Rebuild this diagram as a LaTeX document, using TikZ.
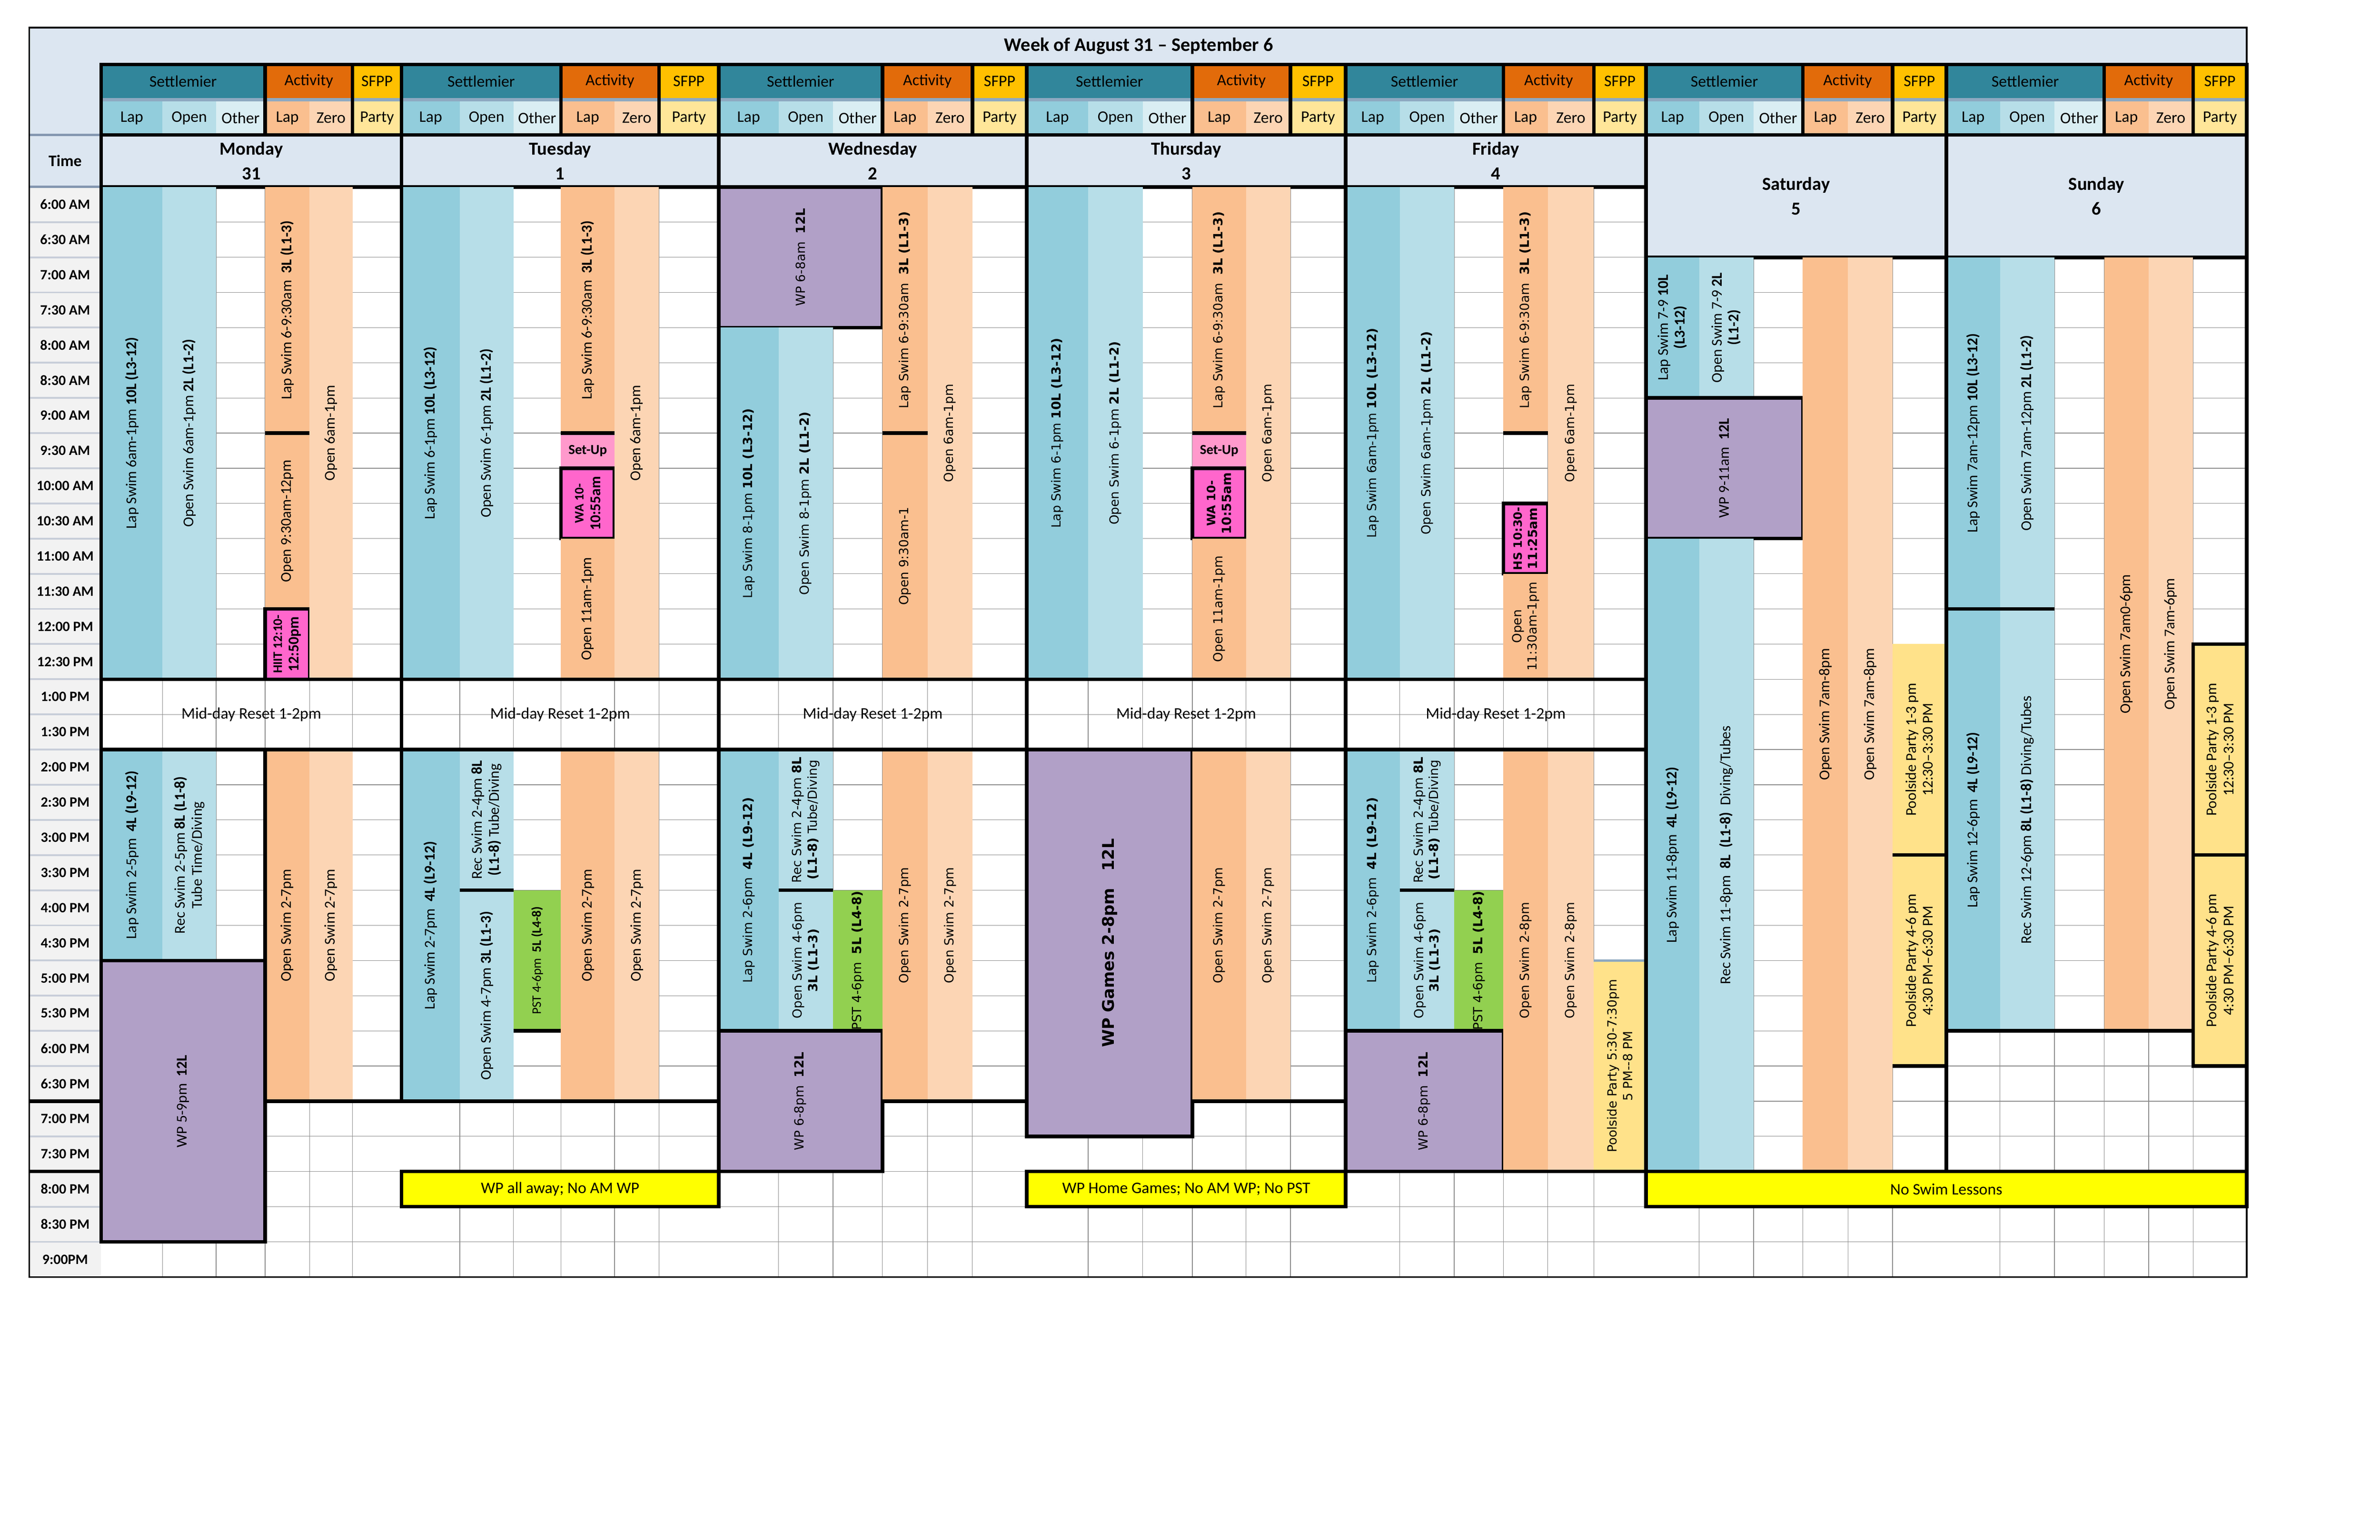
\documentclass[tikz,border=0pt]{standalone}
\usepackage{fontspec}
\setmainfont{Carlito}
\newfontfamily\dvfont{DejaVu Sans}
\definecolor{lapc}{HTML}{92CDDC}
\definecolor{openc}{HTML}{B7DEE8}
\definecolor{othc}{HTML}{DAEEF3}
\definecolor{alapc}{HTML}{FABF8F}
\definecolor{zeroc}{HTML}{FCD5B4}
\definecolor{wpc}{HTML}{B1A0C7}
\definecolor{pinkc}{HTML}{FF66CC}
\definecolor{setupc}{HTML}{FF99CC}
\definecolor{greenc}{HTML}{92D050}
\definecolor{partyc}{HTML}{FFE28A}
\definecolor{partyh}{HTML}{FFE699}
\definecolor{yelc}{HTML}{FFFF00}
\definecolor{hdrc}{HTML}{DCE6F1}
\definecolor{tealc}{HTML}{31869B}
\definecolor{orngc}{HTML}{E26B0A}
\definecolor{goldc}{HTML}{FFC000}
\definecolor{sepc}{HTML}{8EA9C1}
\definecolor{timec}{HTML}{F2F2F2}
\definecolor{tsep}{HTML}{C8CED9}
\definecolor{slate}{HTML}{8497B0}
\newcommand\carl{\fontsize{9.8}{11}\selectfont}
\newcommand\dvl{\dvfont\fontsize{8.2}{10}\selectfont}
\newcommand\lblfont{\carl}
\newcommand\setday[7]{\def\xa{#1}\def\xb{#2}\def\xc{#3}\def\xd{#4}\def\xe{#5}\def\xf{#6}\def\xg{#7}}
\newcommand\blk[7]{\fill[#6] (#2,{hy(#4)}) rectangle (#3,{hy(#5)});
  \node[lbl] (#1) at ({(#2+#3)/2},{(hy(#4)+hy(#5))/2}) {#7};}
\newcommand\bblk[7]{\filldraw[fill=#6,draw=black,thk] (#2,{hy(#4)}) rectangle (#3,{hy(#5)});
  \node[lbl] (#1) at ({(#2+#3)/2},{(hy(#4)+hy(#5))/2}) {#7};}
\newcommand\midday[1]{\node[font=\fontsize{10.5}{12}\selectfont] (#1) at ({(\xa+\xg)/2},{hy(13.5)}) {Mid-day Reset 1-2pm};}
\newcommand\banner[4]{\filldraw[fill=yelc,draw=black,thk] (#2,{hy(20)}) rectangle (#3,{hy(20.5)});
  \node[font=\fontsize{10.5}{12}\selectfont] (#1) at ({(#2+#3)/2},{hy(20.25)}) {#4};}
\newcommand\setup[1]{\fill[setupc] (\xd,{hy(9.5)}) rectangle (\xe,{hy(10)});
  \node[font=\bfseries\fontsize{9}{10}\selectfont] (#1) at ({(\xd+\xe)/2},{hy(9.75)}) {Set-Up};}
\newcommand\dayhdr[4]{%
  \fill[tealc] (\xa,42) rectangle (\xd,64); \fill[orngc] (\xd,42) rectangle (\xf,64); \fill[goldc] (\xf,42) rectangle (\xg,64);
  \fill[sepc] (\xa,64) rectangle (\xg,66);
  \fill[lapc] (\xa,66) rectangle (\xb,88); \fill[openc] (\xb,66) rectangle (\xc,88); \fill[othc] (\xc,66) rectangle (\xd,88);
  \fill[alapc] (\xd,66) rectangle (\xe,88); \fill[zeroc] (\xe,66) rectangle (\xf,88); \fill[partyh] (\xf,66) rectangle (\xg,88);
  \fill[hdrc] (\xa,88) rectangle (\xg,#4);
  \node[hd] (#1-s) at ({(\xa+\xd)/2},53) {Settlemier};
  \node[hd] (#1-a) at ({(\xd+\xf)/2},53) {Activity};
  \node[hd] (#1-p) at ({(\xf+\xg)/2},53) {SFPP};
  \node[hd] (#1-l) at ({(\xa+\xb)/2},77) {Lap};
  \node[hd] (#1-o) at ({(\xb+\xc)/2},77) {Open};
  \node[hd] (#1-t) at ({(\xc+\xd)/2},77) {Other};
  \node[hd] (#1-al) at ({(\xd+\xe)/2},77) {Lap};
  \node[hd] (#1-z) at ({(\xe+\xf)/2},77) {Zero};
  \node[hd] (#1-pa) at ({(\xf+\xg)/2},77) {Party};
  \node[font=\bfseries\fontsize{12}{16}\selectfont,align=center] (#1-d) at ({(\xa+\xg)/2},{(88+#4)/2}) {#2\\#3};
  \draw[thk] (\xa,42) rectangle (\xg,88); \draw[thk] (\xd,42)--(\xd,88) (\xf,42)--(\xf,88);
  \draw[thk] (\xa,#4) -- (\xg,#4);}
\pgfmathdeclarefunction{hy}{1}{\pgfmathparse{122+45.9*(#1-6)}}
\begin{document}
\begin{tikzpicture}[x=1pt,y=-1pt,
  lbl/.style={rotate=90,align=center,inner sep=0pt,font=\lblfont},
  hd/.style={font=\fontsize{10.5}{12}\selectfont,inner sep=0pt},
  thk/.style={line width=2.3pt},
  grid/.style={draw=black!45,line width=0.4pt}]
\useasboundingbox (0,0) rectangle (1553,1005);
\fill[white] (0,0) rectangle (1553,1005);
% title and top-left
\fill[hdrc] (19,18) rectangle (1466,42);
\fill[hdrc] (19,42) rectangle (66,122);
\node[font=\bfseries\fontsize{12.5}{14}\selectfont] (title) at (743,30) {Week of August 31 -- September 6};
% grid
\foreach \h in {6.5,7,...,21} \draw[grid] (66,{hy(\h)}) -- (1466,{hy(\h)});
\foreach \x in {106,141,173,202,230,300,335,366,401,430,508,543.5,575.8,605.3,634.5,710,745.6,778,813,842,913.4,948.9,981,1010,1040,1108.7,1144.2,1176.3,1205.8,1234.9,1305,1340.5,1373,1402,1431}
  \draw[grid] (\x,122) -- (\x,833.5);
% time column
\fill[timec] (19,122) rectangle (66,833.5);
\foreach \h in {6.5,7,...,21} \draw[tsep,line width=1.2pt] (19,{hy(\h)}) -- (66,{hy(\h)});
\draw[slate,line width=1.5pt] (19,88) -- (66,88) (19,122) -- (66,122);
\node[font=\bfseries\fontsize{10.5}{12}\selectfont] (timeh) at (42.5,105) {Time};
\foreach \i/\t in {0/6:00 AM,1/6:30 AM,2/7:00 AM,3/7:30 AM,4/8:00 AM,5/8:30 AM,6/9:00 AM,7/9:30 AM,8/10:00 AM,9/10:30 AM,10/11:00 AM,11/11:30 AM,12/12:00 PM,13/12:30 PM,14/1:00 PM,15/1:30 PM,16/2:00 PM,17/2:30 PM,18/3:00 PM,19/3:30 PM,20/4:00 PM,21/4:30 PM,22/5:00 PM,23/5:30 PM,24/6:00 PM,25/6:30 PM,26/7:00 PM,27/7:30 PM,28/8:00 PM,29/8:30 PM,30/9:00PM}
  \node[font=\bfseries\fontsize{9.3}{10}\selectfont] (t\i) at (42.5,{122+22.95*(\i+0.5)}) {\t};
\draw[thk] (19,{hy(19)}) -- (66,{hy(19)}) (19,{hy(20)}) -- (66,{hy(20)});
% ===== Monday
\setday{66}{106}{141}{173}{202}{230}{262}
\dayhdr{mo}{Monday}{31}{122}
\blk{mo1}{\xa}{\xb}{6}{13}{lapc}{Lap Swim 6am-1pm \textbf{10L (L3-12)}}
\blk{mo2}{\xb}{\xc}{6}{13}{openc}{Open Swim 6am-1pm \textbf{2L (L1-2)}}
\blk{mo3}{\xd}{\xe}{6}{9.5}{alapc}{Lap Swim 6-9:30am\ \ \textbf{3L (L1-3)}}
\blk{mo4}{\xd}{\xe}{9.5}{12}{alapc}{Open 9:30am-12pm}
\bblk{mo5}{\xd}{\xe}{12}{13}{pinkc}{\fontsize{8.5}{9.5}\selectfont\textbf{HIIT 12:10-}\\\textbf{12:50pm}}
\blk{mo6}{\xe}{\xf}{6}{13}{zeroc}{Open 6am-1pm}
\midday{mo7}
\blk{mo8}{\xa}{\xb}{14}{17}{lapc}{Lap Swim 2-5pm\ \ \textbf{4L (L9-12)}}
\blk{mo9}{\xb}{\xc}{14}{17}{openc}{Rec Swim 2-5pm \textbf{8L (L1-8)}\\Tube Time/Diving}
\blk{mo10}{\xd}{\xe}{14}{19}{alapc}{Open Swim 2-7pm}
\blk{mo11}{\xe}{\xf}{14}{19}{zeroc}{Open Swim 2-7pm}
\bblk{mo12}{\xa}{\xd}{17}{21}{wpc}{WP 5-9pm\ \ \textbf{12L}}
\draw[thk] (\xd,{hy(14)}) -- (\xd,{hy(19)});
\draw[thk] (\xd,{hy(9.5)}) -- (\xe,{hy(9.5)});
% ===== Tuesday
\setday{262}{300}{335}{366}{401}{430}{469}
\dayhdr{tu}{Tuesday}{1}{122}
\blk{tu1}{\xa}{\xb}{6}{13}{lapc}{Lap Swim 6-1pm \textbf{10L (L3-12)}}
\blk{tu2}{\xb}{\xc}{6}{13}{openc}{Open Swim 6-1pm \textbf{2L (L1-2)}}
\blk{tu3}{\xd}{\xe}{6}{9.5}{alapc}{Lap Swim 6-9:30am\ \ \textbf{3L (L1-3)}}
\setup{tu4}
\bblk{tu5}{\xd}{\xe}{10}{11}{pinkc}{\fontsize{8.5}{9.5}\selectfont\textbf{WA 10-}\\\textbf{10:55am}}
\blk{tu6}{\xd}{\xe}{11}{13}{alapc}{Open 11am-1pm}
\blk{tu7}{\xe}{\xf}{6}{13}{zeroc}{Open 6am-1pm}
\midday{tu8}
\blk{tu9}{\xa}{\xb}{14}{19}{lapc}{Lap Swim 2-7pm\ \ \textbf{4L (L9-12)}}
\blk{tu10}{\xb}{\xc}{14}{16}{openc}{Rec Swim 2-4pm \textbf{8L}\\\textbf{(L1-8)} Tube/Diving}
\blk{tu11}{\xb}{\xc}{16}{19}{openc}{Open Swim 4-7pm \textbf{3L (L1-3)}}
\blk{tu12}{\xc}{\xd}{16}{18}{greenc}{\fontsize{8.5}{9.5}\selectfont PST 4-6pm\ \ \textbf{5L (L4-8)}}
\blk{tu13}{\xd}{\xe}{14}{19}{alapc}{Open Swim 2-7pm}
\blk{tu14}{\xe}{\xf}{14}{19}{zeroc}{Open Swim 2-7pm}
\draw[thk] (\xd,{hy(9.5)}) -- (\xe,{hy(9.5)});
\draw[thk] (\xb,{hy(16)}) -- (\xc,{hy(16)}) (\xc,{hy(18)}) -- (\xd,{hy(18)});
\banner{tu15}{\xa}{\xg}{WP all away; No AM WP}
% ===== Wednesday
\setday{469}{508}{543.5}{575.8}{605.3}{634.5}{670}
\dayhdr{we}{Wednesday}{2}{122}
\renewcommand\lblfont{\dvl}
\bblk{we1}{\xa}{\xd}{6}{8}{wpc}{WP 6-8am\ \ \textbf{12L}}
\blk{we2}{\xa}{\xb}{8}{13}{lapc}{Lap Swim 8-1pm \textbf{10L (L3-12)}}
\blk{we3}{\xb}{\xc}{8}{13}{openc}{Open Swim 8-1pm \textbf{2L (L1-2)}}
\blk{we4}{\xd}{\xe}{6}{9.5}{alapc}{Lap Swim 6-9:30am\ \ \textbf{3L (L1-3)}}
\blk{we5}{\xd}{\xe}{9.5}{13}{alapc}{Open 9:30am-1}
\blk{we6}{\xe}{\xf}{6}{13}{zeroc}{Open 6am-1pm}
\midday{we7}
\blk{we8}{\xa}{\xb}{14}{18}{lapc}{Lap Swim 2-6pm\ \ \textbf{4L (L9-12)}}
\blk{we9}{\xb}{\xc}{14}{16}{openc}{Rec Swim 2-4pm \textbf{8L}\\\textbf{(L1-8)} Tube/Diving}
\blk{we10}{\xb}{\xc}{16}{18}{openc}{Open Swim 4-6pm\\\textbf{3L (L1-3)}}
\blk{we11}{\xc}{\xd}{16}{18}{greenc}{PST 4-6pm\ \ \textbf{5L (L4-8)}}
\bblk{we12}{\xa}{\xd}{18}{20}{wpc}{WP 6-8pm\ \ \textbf{12L}}
\blk{we13}{\xd}{\xe}{14}{19}{alapc}{Open Swim 2-7pm}
\blk{we14}{\xe}{\xf}{14}{19}{zeroc}{Open Swim 2-7pm}
\draw[thk] (\xd,{hy(9.5)}) -- (\xe,{hy(9.5)});
\draw[thk] (\xb,{hy(16)}) -- (\xc,{hy(16)});
\draw[thk] (\xd,{hy(19)}) -- (\xg,{hy(19)});
% ===== Thursday
\setday{670}{710}{745.6}{778}{813}{842}{878}
\dayhdr{th}{Thursday}{3}{122}
\blk{th1}{\xa}{\xb}{6}{13}{lapc}{Lap Swim 6-1pm \textbf{10L (L3-12)}}
\blk{th2}{\xb}{\xc}{6}{13}{openc}{Open Swim 6-1pm \textbf{2L (L1-2)}}
\blk{th3}{\xd}{\xe}{6}{9.5}{alapc}{Lap Swim 6-9:30am\ \ \textbf{3L (L1-3)}}
\setup{th4}
\bblk{th5}{\xd}{\xe}{10}{11}{pinkc}{\fontsize{7.5}{9}\selectfont\textbf{WA 10-}\\\textbf{10:55am}}
\blk{th6}{\xd}{\xe}{11}{13}{alapc}{Open 11am-1pm}
\blk{th7}{\xe}{\xf}{6}{13}{zeroc}{Open 6am-1pm}
\midday{th8}
\bblk{th9}{\xa}{\xd}{14}{19.5}{wpc}{\fontsize{10.5}{12}\selectfont\bfseries WP Games 2-8pm\ \ \ 12L}
\blk{th10}{\xd}{\xe}{14}{19}{alapc}{Open Swim 2-7pm}
\blk{th11}{\xe}{\xf}{14}{19}{zeroc}{Open Swim 2-7pm}
\draw[thk] (\xd,{hy(9.5)}) -- (\xe,{hy(9.5)});
\draw[thk] (\xd,{hy(19)}) -- (\xg,{hy(19)});
\banner{th12}{\xa}{\xg}{WP Home Games; No AM WP; No PST}
% ===== Friday
\setday{878}{913.4}{948.9}{981}{1010}{1040}{1074}
\dayhdr{fr}{Friday}{4}{122}
\blk{fr1}{\xa}{\xb}{6}{13}{lapc}{Lap Swim 6am-1pm \textbf{10L (L3-12)}}
\blk{fr2}{\xb}{\xc}{6}{13}{openc}{Open Swim 6am-1pm \textbf{2L (L1-2)}}
\blk{fr3}{\xd}{\xe}{6}{9.5}{alapc}{Lap Swim 6-9:30am\ \ \textbf{3L (L1-3)}}
\bblk{fr4}{\xd}{\xe}{10.5}{11.5}{pinkc}{\fontsize{7.5}{9}\selectfont\textbf{HS 10:30-}\\\textbf{11:25am}}
\blk{fr5}{\xd}{\xe}{11.5}{13}{alapc}{Open\\11:30am-1pm}
\blk{fr6}{\xe}{\xf}{6}{13}{zeroc}{Open 6am-1pm}
\midday{fr7}
\blk{fr8}{\xa}{\xb}{14}{18}{lapc}{Lap Swim 2-6pm\ \ \textbf{4L (L9-12)}}
\blk{fr9}{\xb}{\xc}{14}{16}{openc}{Rec Swim 2-4pm \textbf{8L}\\\textbf{(L1-8)} Tube/Diving}
\blk{fr10}{\xb}{\xc}{16}{18}{openc}{Open Swim 4-6pm\\\textbf{3L (L1-3)}}
\blk{fr11}{\xc}{\xd}{16}{18}{greenc}{PST 4-6pm\ \ \textbf{5L (L4-8)}}
\bblk{fr12}{\xa}{\xd}{18}{20}{wpc}{WP 6-8pm\ \ \textbf{12L}}
\blk{fr13}{\xd}{\xe}{14}{20}{alapc}{Open Swim 2-8pm}
\blk{fr14}{\xe}{\xf}{14}{20}{zeroc}{Open Swim 2-8pm}
\blk{fr15}{\xf}{\xg}{17}{20}{partyc}{Poolside Party 5:30-7:30pm\\5 PM--8 PM}
\draw[sepc,line width=1.5pt] (\xf,{hy(17)}) -- (\xg,{hy(17)});
\draw[thk] (\xd,{hy(9.5)}) -- (\xe,{hy(9.5)});
\draw[thk] (\xb,{hy(16)}) -- (\xc,{hy(16)});
\draw[thk] (\xa,{hy(20)}) -- (\xg,{hy(20)});
% ===== Saturday
\renewcommand\lblfont{\carl}
\setday{1074}{1108.7}{1144.2}{1176.3}{1205.8}{1234.9}{1270}
\dayhdr{sa}{Saturday}{5}{168}
\blk{sa1}{\xa}{\xb}{7}{9}{lapc}{Lap Swim 7-9 \textbf{10L}\\\textbf{(L3-12)}}
\blk{sa2}{\xb}{\xc}{7}{9}{openc}{Open Swim 7-9 \textbf{2L}\\\textbf{(L1-2)}}
\bblk{sa3}{\xa}{\xd}{9}{11}{wpc}{WP 9-11am\ \ \textbf{12L}}
\blk{sa4}{\xa}{\xb}{11}{20}{lapc}{Lap Swim 11-8pm\ \ \textbf{4L (L9-12)}}
\blk{sa5}{\xb}{\xc}{11}{20}{openc}{Rec Swim 11-8pm\ \ \textbf{8L\ \ (L1-8)}\ \ Diving/Tubes}
\blk{sa6}{\xd}{\xe}{7}{20}{alapc}{Open Swim 7am-8pm}
\blk{sa7}{\xe}{\xf}{7}{20}{zeroc}{Open Swim 7am-8pm}
\blk{sa8}{\xf}{\xg}{12.5}{15.5}{partyc}{Poolside Party 1-3 pm\\12:30--3:30 PM}
\blk{sa9}{\xf}{\xg}{15.5}{18.5}{partyc}{Poolside Party 4-6 pm\\4:30 PM--6:30 PM}
\draw[thk] (\xf,{hy(15.5)}) -- (\xg,{hy(15.5)}) (\xf,{hy(18.5)}) -- (\xg,{hy(18.5)});
% ===== Sunday
\setday{1270}{1305}{1340.5}{1373}{1402}{1431}{1466}
\dayhdr{su}{Sunday}{6}{168}
\blk{su1}{\xa}{\xb}{7}{12}{lapc}{Lap Swim 7am-12pm \textbf{10L (L3-12)}}
\blk{su2}{\xb}{\xc}{7}{12}{openc}{Open Swim 7am-12pm \textbf{2L (L1-2)}}
\blk{su3}{\xa}{\xb}{12}{18}{lapc}{Lap Swim 12-6pm\ \ \textbf{4L (L9-12)}}
\blk{su4}{\xb}{\xc}{12}{18}{openc}{Rec Swim 12-6pm \textbf{8L (L1-8)} Diving/Tubes}
\blk{su5}{\xd}{\xe}{7}{18}{alapc}{Open Swim 7am0-6pm}
\blk{su6}{\xe}{\xf}{7}{18}{zeroc}{Open Swim 7am-6pm}
\bblk{su7}{\xf}{\xg}{12.5}{15.5}{partyc}{Poolside Party 1-3 pm\\12:30--3:30 PM}
\bblk{su8}{\xf}{\xg}{15.5}{18.5}{partyc}{Poolside Party 4-6 pm\\4:30 PM--6:30 PM}
\draw[thk] (\xa,{hy(12)}) -- (\xc,{hy(12)}) (\xa,{hy(18)}) -- (\xf,{hy(18)});
\banner{we15}{1074}{1466}{No Swim Lessons}
% ===== structural thick lines
\draw[thk] (66,{hy(13)}) -- (1074,{hy(13)}) (66,{hy(14)}) -- (1074,{hy(14)});
\draw[thk] (173,{hy(19)}) -- (469,{hy(19)});
\draw[thk] (66,88) -- (66,{hy(21)});
\draw[thk] (262,42) -- (262,{hy(19)});
\draw[thk] (469,42) -- (469,{hy(20)});
\draw[thk] (670,42) -- (670,{hy(19.5)});
\draw[thk] (878,42) -- (878,{hy(20)});
\draw[thk] (1074,42) -- (1074,{hy(20.5)});
\draw[thk] (1270,42) -- (1270,{hy(20)});
\draw[thk] (1466,42) -- (1466,{hy(20.5)});
\draw[line width=1pt] (19,18) rectangle (1466,833.5);
\end{tikzpicture}
\end{document}
